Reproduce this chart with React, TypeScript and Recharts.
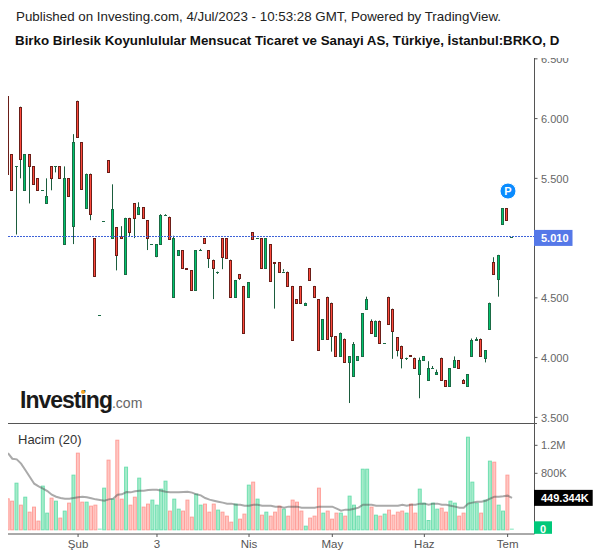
import { Bar, ComposedChart, Line, ReferenceDot, ReferenceLine, XAxis, YAxis } from "recharts";

const opens = [
  6.19, 5.70, 5.60, 6.10, 5.40, 5.70, 5.60, 5.50, 5.40, 5.29, 5.60, 5.60, 5.60, 4.95, 5.50, 5.10, 6.15, 5.80, 5.25, 5.54,
  5.00, 4.36, 5.14, 5.65, 5.00, 5.09, 5.02, 4.70, 5.17, 5.29, 5.20, 5.26, 5.15, 4.95, 4.85, 4.95, 5.19, 5.18, 4.51, 4.86,
  4.90, 4.75, 4.73, 4.57, 4.90, 5.00, 4.90, 4.82, 4.72, 5.00, 5.00, 4.82, 4.51, 4.70, 4.60, 4.51, 5.05, 5.00, 5.00, 4.75,
  4.95, 4.80, 4.80, 4.72, 4.72, 4.60, 4.49, 4.60, 4.44, 4.75, 4.60, 4.49, 4.16, 4.51, 4.46, 4.18, 4.01, 4.16, 3.96, 3.85,
  3.98, 4.01, 4.41, 4.31, 4.18, 4.31, 4.12, 4.51, 4.41, 4.17, 4.10, 4.00, 4.02, 4.00, 3.86, 3.98, 3.81, 3.91, 3.86, 4.00,
  3.81, 3.76, 3.92, 3.98, 3.81, 3.76, 4.01, 4.15, 4.16, 4.00, 4.24, 4.80, 4.66, 5.12, 5.25, 5.01,
];
const closes = [
  5.54, 5.40, 5.60, 5.66, 5.70, 5.60, 5.45, 5.40, 5.40, 5.35, 5.50, 5.60, 5.50, 5.50, 5.35, 5.80, 5.85, 5.41, 5.54, 5.20,
  4.68, 4.36, 5.14, 5.55, 5.24, 4.86, 5.00, 5.17, 5.05, 5.17, 5.26, 5.17, 5.00, 4.95, 4.95, 5.19, 5.19, 4.99, 5.00, 4.90,
  4.75, 4.74, 4.57, 4.90, 4.90, 4.96, 4.83, 4.75, 4.72, 4.84, 4.83, 4.51, 4.65, 4.67, 4.21, 4.63, 4.99, 5.00, 4.75, 5.00,
  4.64, 4.79, 4.72, 4.72, 4.60, 4.15, 4.46, 4.46, 4.46, 4.65, 4.51, 4.06, 4.32, 4.16, 4.18, 4.01, 4.21, 3.96, 4.01, 4.11,
  4.01, 4.37, 4.49, 4.21, 4.31, 4.12, 4.12, 4.28, 4.22, 4.06, 4.00, 4.00, 4.01, 3.91, 3.98, 4.01, 3.91, 3.91, 3.88, 3.81,
  3.76, 3.91, 3.98, 3.91, 3.79, 3.86, 4.15, 4.16, 4.01, 4.06, 4.46, 4.70, 4.86, 5.25, 5.15, 5.01,
];
const highs = [
  6.19, 5.70, 5.60, 6.10, 5.70, 5.70, 5.60, 5.50, 5.40, 5.50, 5.60, 5.60, 5.60, 5.60, 5.50, 5.87, 6.15, 5.80, 5.54, 5.54,
  5.00, 4.36, 5.14, 5.65, 5.45, 5.09, 5.10, 5.17, 5.17, 5.29, 5.30, 5.26, 5.15, 4.95, 4.95, 5.20, 5.20, 5.18, 5.02, 4.90,
  4.90, 4.75, 4.73, 4.90, 4.91, 5.00, 4.90, 4.82, 4.72, 5.00, 5.00, 4.82, 4.65, 4.70, 4.60, 4.63, 5.05, 5.00, 5.00, 5.00,
  4.95, 4.80, 4.80, 4.74, 4.72, 4.60, 4.49, 4.60, 4.46, 4.75, 4.60, 4.49, 4.32, 4.51, 4.46, 4.18, 4.21, 4.16, 4.01, 4.13,
  4.01, 4.37, 4.51, 4.32, 4.31, 4.31, 4.12, 4.51, 4.41, 4.17, 4.10, 4.00, 4.02, 4.00, 4.00, 4.01, 3.97, 3.93, 3.90, 4.00,
  3.81, 3.91, 4.01, 3.98, 3.82, 3.86, 4.16, 4.17, 4.16, 4.06, 4.46, 4.84, 4.86, 5.25, 5.25, 5.01,
];
const lows = [
  5.54, 5.40, 5.03, 5.50, 5.40, 5.29, 5.45, 5.40, 5.40, 5.29, 5.40, 5.55, 5.50, 4.95, 5.35, 4.95, 5.85, 5.41, 5.25, 5.15,
  4.68, 4.36, 5.14, 5.55, 5.00, 4.73, 5.00, 4.70, 5.01, 5.00, 5.20, 5.17, 4.90, 4.95, 4.84, 4.95, 5.19, 4.99, 4.51, 4.86,
  4.75, 4.74, 4.57, 4.57, 4.90, 4.96, 4.75, 4.49, 4.70, 4.74, 4.83, 4.51, 4.51, 4.65, 4.21, 4.51, 4.99, 5.00, 4.75, 4.75,
  4.64, 4.41, 4.72, 4.72, 4.60, 4.15, 4.46, 4.45, 4.44, 4.65, 4.51, 4.06, 4.16, 4.16, 4.05, 4.01, 4.01, 3.96, 3.62, 3.85,
  3.98, 4.01, 4.40, 4.21, 4.18, 4.12, 4.12, 4.28, 3.99, 4.01, 3.91, 3.98, 4.01, 3.91, 3.66, 3.98, 3.81, 3.91, 3.86, 3.81,
  3.76, 3.76, 3.92, 3.91, 3.79, 3.76, 4.01, 4.15, 4.01, 3.96, 4.24, 4.70, 4.51, 5.12, 5.15, 5.01,
];
// volume and its 20 day average, in thousands
const volumes = [
  443, 409, 666, 352, 466, 252, 324, 124, 624, 238, 452, 409, 167, 267, 381, 781, 1095, 395, 395, 338,
  352, 2, 595, 995, 438, 1280, 438, 895, 352, 466, 738, 324, 367, 424, 352, 581, 695, 267, 438, 295,
  267, 424, 181, 509, 352, 367, 252, 367, 281, 252, 195, 109, 367, 152, 224, 638, 681, 438, 209, 252,
  195, 252, 338, 295, 195, 424, 395, 267, 52, 167, 195, 595, 238, 267, 152, 238, 238, 195, 481, 352,
  195, 866, 866, 324, 209, 195, 224, 281, 209, 252, 267, 238, 367, 238, 581, 380, 133, 381, 295, 309,
  252, 409, 381, 195, 238, 1323, 681, 381, 238, 424, 981, 966, 352, 267, 781, 2,
];
const volumeAverage = [
  1090, 1009, 1000, 938, 843, 747, 652, 614, 581, 547, 495, 466, 447, 438, 438, 447, 457, 466, 457, 443,
  428, 419, 409, 428, 438, 495, 500, 533, 528, 543, 552, 552, 562, 566, 566, 552, 538, 528, 528, 528,
  533, 538, 524, 500, 485, 447, 424, 409, 395, 381, 367, 367, 352, 352, 338, 338, 352, 352, 338, 338,
  338, 324, 324, 309, 324, 324, 324, 309, 309, 309, 309, 324, 324, 324, 324, 295, 267, 281, 281, 295,
  309, 352, 352, 352, 338, 338, 338, 338, 338, 338, 352, 338, 352, 352, 367, 367, 352, 367, 367, 352,
  352, 338, 324, 309, 309, 367, 381, 395, 395, 409, 438, 466, 466, 471, 481, 449,
];
const xTicks = [16, 34, 55, 74, 95, 114];
const xTickLabels = ["Şub", "3", "Nis", "May", "Haz", "Tem"];
const priceTicks = [3.5, 4, 4.5, 5.01, 5.5, 6, 6.5];
const volumeTicks = [0, 449.344, 800, 1200];
const lastPrice = 5.01;
const lastAverage = 449.344;

const data = opens.map((open, i) => ({
  i,
  open,
  close: closes[i],
  range: [lows[i], highs[i]],
  volume: volumes[i],
  average: volumeAverage[i],
  up: closes[i] >= open,
}));

const FONT = '"Liberation Sans", Arial, sans-serif';
const AXIS = "#555555";
const TEXT = "#666666";

// candle from the [low, high] bar the library positions
const Candle = (props: any) => {
  const { x, y, width, height, payload } = props;
  const [low, high] = payload.range;
  const perUnit = high > low ? height / (high - low) : 0;
  const px = Math.floor(x + width / 2 - 1);
  const top = Math.round(y + (high - Math.max(payload.open, payload.close)) * perUnit);
  const bottom = Math.round(y + (high - Math.min(payload.open, payload.close)) * perUnit);
  const border = payload.up ? "#1b6b45" : "#6b1e18";
  const fill = payload.up ? "#00c46c" : "#ff4a3d";
  return (
    <g>
      <line x1={px + 1.5} x2={px + 1.5} y1={y} y2={y + height} stroke="#1b5c3d" strokeWidth={1} />
      {bottom - top < 1 ? (
        <line x1={px} x2={px + 3} y1={top + 0.5} y2={top + 0.5} stroke={border} strokeWidth={1} />
      ) : (
        <rect x={px + 0.5} y={top + 0.5} width={2} height={bottom - top} fill={fill} stroke={border} strokeWidth={1} />
      )}
    </g>
  );
};

const VolumeBar = (props: any) => {
  const { x, y, width, height, payload } = props;
  if (height < 1) {
    return <line x1={x} x2={x + width} y1={y} y2={y} stroke="#7de6bb" strokeWidth={1} />;
  }
  return (
    <rect
      x={x + 0.5}
      y={y + 0.5}
      width={width - 1}
      height={height}
      fill={payload.up ? "#a5ecca" : "#ffc6c2"}
      stroke={payload.up ? "#6fdfb0" : "#ff9f99"}
      strokeWidth={1}
    />
  );
};

const PriceTick = (props: any) => {
  const { y, payload } = props;
  const left = 534;
  if (payload.value === lastPrice) {
    return (
      <g>
        <rect x={left} y={y - 7} width={38.5} height={16} fill="#5578e8" />
        <text x={541} y={y + 5} fill="#ffffff" fontSize={11} fontWeight="bold" fontFamily={FONT}>
          {payload.value.toFixed(3)}
        </text>
      </g>
    );
  }
  // the top label is cut by the edge of the pane
  const cut = payload.value === 6.5;
  return (
    <g>
      {cut && (
        <clipPath id="price-top-tick">
          <rect x={left} y={58} width={60} height={20} />
        </clipPath>
      )}
      <text
        x={541}
        y={y + 4.5}
        fill={TEXT}
        fontSize={11}
        fontFamily={FONT}
        clipPath={cut ? "url(#price-top-tick)" : undefined}
      >
        {payload.value.toFixed(3)}
      </text>
    </g>
  );
};

const VolumeTick = (props: any) => {
  const { y, payload } = props;
  const value = payload.value;
  const left = 534;
  if (value === lastAverage) {
    return (
      <g>
        <rect x={left} y={y - 8} width={58.7} height={16} fill="#000000" />
        <text x={541} y={y + 4} fill="#ffffff" fontSize={11} fontWeight="bold" fontFamily={FONT}>
          449.344K
        </text>
      </g>
    );
  }
  if (value === 0) {
    return (
      <g>
        <rect x={left} y={y - 8} width={18} height={12.5} fill="#00c87a" />
        <text x={540} y={y + 3.5} fill="#ffffff" fontSize={11} fontWeight="bold" fontFamily={FONT}>
          0
        </text>
      </g>
    );
  }
  return (
    <text x={541} y={y + 4} fill={TEXT} fontSize={11} fontFamily={FONT}>
      {value >= 1000 ? `${value / 1000}M` : `${value}K`}
    </text>
  );
};

const Overlay = ({ style, children }: any) => (
  <div style={{ position: "absolute", whiteSpace: "nowrap", fontFamily: FONT, ...style }}>{children}</div>
);

export default function App() {
  return (
    <div style={{ position: "absolute", left: 0, top: 0, width: 600, height: 558, background: "#ffffff" }}>
      <Overlay style={{ left: 16, top: 9, fontSize: 13.33, color: "#222222" }}>
        Published on Investing.com, 4/Jul/2023 - 10:53:28 GMT, Powered by TradingView.
      </Overlay>
      <Overlay style={{ left: 15, top: 33, fontSize: 13.33, fontWeight: "bold", color: "#111111" }}>
        Birko Birlesik Koyunlulular Mensucat Ticaret ve Sanayi AS, Türkiye, İstanbul:BRKO, D
      </Overlay>

      <div style={{ position: "absolute", left: 0, top: 0 }}>
        <ComposedChart
          width={600}
          height={423}
          data={data}
          margin={{ top: 58, right: 0, bottom: 0, left: 4 }}
        >
          <XAxis dataKey="i" type="number" domain={[-0.787, 120.25]} allowDataOverflow hide />
          <YAxis
            orientation="right"
            width={65.5}
            domain={[3.453, 6.507]}
            allowDataOverflow
            ticks={priceTicks}
            interval={0}
            axisLine={{ stroke: AXIS, strokeWidth: 1 }}
            tickLine={{ stroke: AXIS }}
            tickSize={3}
            tick={PriceTick}
          />
          <ReferenceLine y={lastPrice} stroke="#3d62d8" strokeDasharray="2 1" shapeRendering="crispEdges" />
          <Bar dataKey="range" barSize={4} shape={Candle} isAnimationActive={false} />
          <ReferenceDot
            x={114.2}
            y={5.394}
            r={8}
            fill="#0a8cff"
            stroke="#ffffff"
            label={{ value: "P", position: "center", fill: "#ffffff", fontSize: 11, fontWeight: "bold", fontFamily: FONT }}
          />
        </ComposedChart>
      </div>

      <div style={{ position: "absolute", left: 0, top: 423 }}>
        <ComposedChart
          width={600}
          height={135}
          data={data}
          barCategoryGap={0}
          margin={{ top: 0, right: 0, bottom: 0, left: 4 }}
        >
          <XAxis
            dataKey="i"
            type="number"
            domain={[-0.9, 120.13]}
            allowDataOverflow
            ticks={xTicks}
            interval={0}
            height={24}
            axisLine={{ stroke: AXIS, strokeWidth: 1 }}
            tickLine={{ stroke: AXIS }}
            tickSize={3}
            tickMargin={3}
            tick={{ fill: "#555555", fontSize: 11.5, fontFamily: FONT }}
            tickFormatter={(value: number) => xTickLabels[xTicks.indexOf(value)]}
          />
          <YAxis
            orientation="right"
            width={65.5}
            domain={[-67, 1519]}
            allowDataOverflow
            ticks={volumeTicks}
            interval={0}
            axisLine={{ stroke: AXIS, strokeWidth: 1 }}
            tickLine={{ stroke: AXIS }}
            tickSize={3}
            tick={VolumeTick}
          />
          <Bar dataKey="volume" barSize={4.4} shape={VolumeBar} isAnimationActive={false} />
          <Line
            dataKey="average"
            type="linear"
            dot={false}
            stroke="#555555"
            strokeOpacity={0.5}
            strokeWidth={2}
            isAnimationActive={false}
          />
        </ComposedChart>
      </div>

      {/* the panes start left of the page edge of the chart, so the first candle is cut like the original */}
      <div style={{ position: "absolute", left: 0, top: 50, width: 8, height: 508, background: "#ffffff" }} />
      <div style={{ position: "absolute", left: 8, top: 423, width: 529, height: 1, background: AXIS }} />
      <Overlay style={{ left: 18, top: 432, fontSize: 13, color: "#333333" }}>Hacim (20)</Overlay>
      <Overlay
        style={{ left: 20, top: 387, fontSize: 23, fontWeight: "bold", letterSpacing: -1, color: "#1a1a1a" }}
      >
        Investing
        <span style={{ fontSize: 14, fontWeight: "normal", letterSpacing: 0, color: "#666666" }}>.com</span>
      </Overlay>
      <div
        style={{ position: "absolute", left: 81, top: 390, width: 4, height: 4, borderRadius: 2, background: "#f5a623" }}
      />
    </div>
  );
}
